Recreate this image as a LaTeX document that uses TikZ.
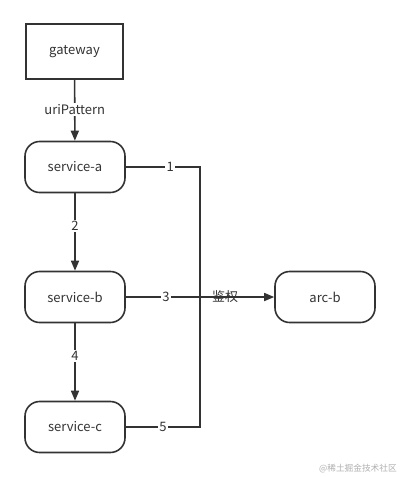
\documentclass[tikz,border=0pt]{standalone}
\usepackage{fontspec}
\setmainfont{Noto Sans CJK SC}
\usetikzlibrary{arrows.meta}
\definecolor{ln}{HTML}{333333}
\definecolor{wm}{HTML}{B0B0B0}
\begin{document}
\begin{tikzpicture}[x=0.75pt,y=-0.75pt,
  box/.style={draw=ln,line width=1.3pt,minimum width=97*0.75pt,minimum height=55*0.75pt,inner sep=0pt,text=ln,font=\fontsize{9.75pt}{11pt}\selectfont},
  svc/.style={draw=ln,line width=1.2pt,rounded corners=11pt,minimum width=100*0.75pt,minimum height=51*0.75pt,inner sep=0pt,text=ln,font=\fontsize{9.75pt}{11pt}\selectfont},
  conn/.style={draw=ln,line width=1.2pt},
  arr/.style={conn,-{Triangle[length=7.5pt,width=6pt]}},
  lbl/.style={fill=white,inner sep=1pt,text=ln,font=\fontsize{9.75pt}{11pt}\selectfont},
  lblnf/.style={inner sep=1pt,text=ln,font=\fontsize{9.75pt}{11pt}\selectfont}]
\useasboundingbox (0,0) rectangle (400,477);
\fill[white] (0,0) rectangle (400,477);
\node[box] (gw) at (74.5,51.5) {gateway};
\node[svc] (sa) at (75,167) {service-a};
\node[svc] (sb) at (75,297) {service-b};
\node[svc] (sc) at (75,427) {service-c};
\node[svc] (ab) at (325,297) {arc-b};
\coordinate (ja) at (200,167);
\coordinate (jc) at (200,427);
\draw[arr] (gw) -- node[lbl,pos=0.48] {uriPattern} (sa);
\draw[arr] (sa) -- node[lbl,pos=0.42] {2} (sb);
\draw[arr] (sb) -- node[lbl,pos=0.42] {4} (sc);
\draw[conn] (sa.east) -- node[lbl,pos=0.6] {1} (ja) -- (jc) -- node[lbl,pos=0.5] {5} (sc.east);
\draw[arr] (sb.east) -- node[lbl,pos=0.27] {3} node[lblnf,pos=0.67,yshift=0.5pt] {鉴权} (ab.west);
\node[anchor=east,text=wm,inner sep=0pt,font=\fontsize{6.5pt}{7pt}\selectfont] (wmk) at (397,469) {@稀土掘金技术社区};
\end{tikzpicture}
\end{document}
